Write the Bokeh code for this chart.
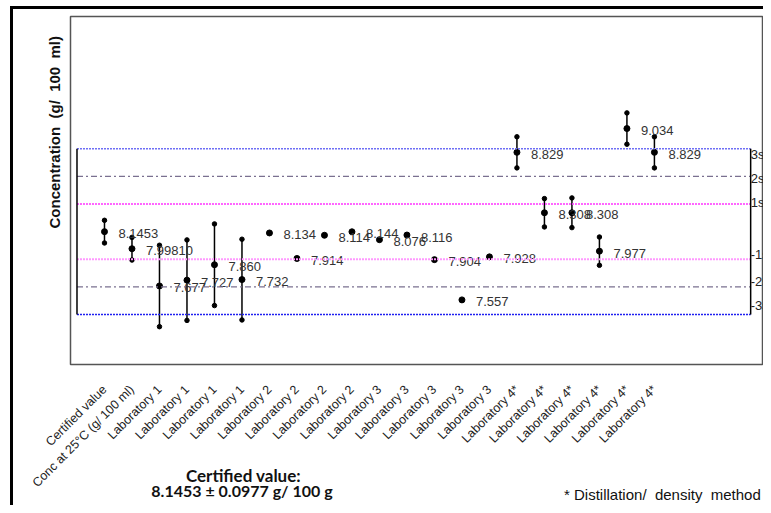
import math
from bokeh.plotting import figure
from bokeh.models import Range1d, FixedTicker, Label, ColumnDataSource, LinearAxis, Title
from bokeh.core.properties import value
from bokeh.embed import file_html
from bokeh.resources import INLINE

# ---------------- data ----------------
categories = ["Certified value", "Conc at 25°C (g/ 100 ml)",
              "Laboratory 1", "Laboratory 1", "Laboratory 1", "Laboratory 1",
              "Laboratory 2", "Laboratory 2", "Laboratory 2", "Laboratory 2",
              "Laboratory 3", "Laboratory 3", "Laboratory 3", "Laboratory 3", "Laboratory 3",
              "Laboratory 4*", "Laboratory 4*", "Laboratory 4*", "Laboratory 4*",
              "Laboratory 4*", "Laboratory 4*"]
values = [8.1453, 7.99810, 7.677, 7.727, 7.860, 7.732,
          8.134, 7.914, 8.114, 8.144,
          8.076, 8.116, 7.904, 7.557, 7.928,
          8.829, 8.308, 8.308, 7.977, 9.034, 8.829]
value_labels = ["8.1453", "7.99810", "7.677", "7.727", "7.860", "7.732",
                "8.134", "7.914", "8.114", "8.144",
                "8.076", "8.116", "7.904", "7.557", "7.928",
                "8.829", "8.308", "8.308", "7.977", "9.034", "8.829"]
uncertainty = [0.0977, 0.0977, 0.351, 0.347, 0.352, 0.348,
               0, 0, 0, 0,
               0, 0, 0, 0, 0,
               0.134, 0.122, 0.128, 0.122, 0.135, 0.134]
certified_mean = 8.1453
certified_sd = 0.238
sigma_levels = [3, 2, 1, -1, -2, -3]
sigma_labels = ["3s", "2s", "1s", "-1s", "-2s", "-3s"]
NB = "\u00a0"
y_title = f"Concentration{NB} (g/{NB} 100{NB} ml)"
note_title = "Certified value:"
note_value = "8.1453 ± 0.0977 g/ 100 g"
footnote = f"* Distillation/{NB} density{NB} method"

FONT = value("Liberation Sans")
xs = list(range(1, len(categories) + 1))

W, H = 763, 505
outer_frame = ("linear-gradient(#000,#000) 10px 6px / 3px 600px no-repeat, "
               "linear-gradient(#000,#000) 10px 6px / 800px 3px no-repeat, white")

p = figure(width=W, height=H, output_backend="svg", toolbar_location=None,
           x_range=Range1d(-0.236, 24.967), y_range=Range1d(7.0, 10.0),
           min_border_left=70, min_border_top=16, min_border_right=0, min_border_bottom=139,
           styles={"background": outer_frame})
p.background_fill_color = "white"
p.border_fill_color = None
p.outline_line_color = "#555555"
p.outline_line_width = 1.5
p.xgrid.visible = False
p.ygrid.visible = False
p.yaxis.visible = False


def quiet(axis):
    axis.major_tick_out = 0
    axis.major_tick_in = 0
    axis.minor_tick_out = 0
    axis.minor_tick_in = 0
    axis.major_tick_line_color = None
    axis.minor_tick_line_color = None
    axis.axis_line_color = None


ax = p.xaxis[0]
quiet(ax)
ax.ticker = FixedTicker(ticks=xs)
ax.major_label_overrides = {x: c for x, c in zip(xs, categories)}
ax.major_label_orientation = math.pi / 4
ax.major_label_standoff = 23
ax.major_label_text_font = "Liberation Sans"
ax.major_label_text_font_size = "12.5px"
ax.major_label_text_color = "#222222"

# texts under the chart, set as single-tick axes stacked below the category axis
note_title_x = 6.056
note_value_x = 6.0
foot_x = 21.29
for ticks, texts, standoff, font, style, size in [
        ([note_value_x], [note_value], -17, "Lato", "bold", "16px"),
        ([foot_x], [footnote], -17, "Liberation Sans", "normal", "15px"),
        ([note_title_x], [note_title], -41, "Lato", "bold", "17px")]:
    a = LinearAxis(ticker=FixedTicker(ticks=ticks),
                   major_label_overrides=dict(zip(ticks, texts)))
    quiet(a)
    a.major_label_standoff = standoff
    a.major_label_text_font = font
    a.major_label_text_font_style = style
    a.major_label_text_font_size = size
    a.major_label_text_color = "#111111"
    p.add_layout(a, "below")

p.add_layout(Title(text=y_title, align="left", offset=136, standoff=16,
                   text_font="Liberation Sans", text_font_style="bold",
                   text_font_size="15px", text_color="#111111"), "left")

# error bars
eb_x = [x for x, e in zip(xs, uncertainty) if e > 0]
eb_lo = [v - e for v, e in zip(values, uncertainty) if e > 0]
eb_hi = [v + e for v, e in zip(values, uncertainty) if e > 0]
p.segment(x0=eb_x, y0=eb_lo, x1=eb_x, y1=eb_hi, line_color="black", line_width=1.5)
p.scatter(eb_x + eb_x, eb_lo + eb_hi, size=4.5, color="black")

# points
src = ColumnDataSource(dict(x=xs, y=values, lab=value_labels))
p.scatter("x", "y", source=src, size=6, color="black")
p.text("x", "y", text="lab", source=src, x_offset=14, y_offset=2,
       text_align="left", text_baseline="middle", text_font=FONT,
       text_font_size="13px", text_color="#333333")

# reference lines
line_styles = {3: ("#6f6ff5", "2 1", 1.5), 2: ("#7a7090", "6 3 2 3", 1.3),
               1: ("#ff33ff", "2 1", 1.5), -1: ("#ff99ff", "2 1", 2),
               -2: ("#7a7090", "6 3 2 3", 1.3), -3: ("#2020f0", "2 1", 1.5)}
box_left, box_right = 0.0, 24.5
for k in sigma_levels:
    col, dash, w = line_styles[k]
    yv = certified_mean + k * certified_sd
    p.segment(x0=[box_left], y0=[yv], x1=[box_right], y1=[yv],
              line_color=col, line_dash=dash, line_width=w)
lo3 = certified_mean - 3 * certified_sd
hi3 = certified_mean + 3 * certified_sd
p.segment(x0=[box_left, box_right], y0=[lo3, lo3], x1=[box_left, box_right], y1=[hi3, hi3],
          line_color="black", line_width=1.5)

sig_offsets = {3: 6, 2: 2, 1: -2, -1: -5, -2: -5, -3: -9}
for k, lab in zip(sigma_levels, sigma_labels):
    p.add_layout(Label(x=box_right, y=certified_mean + k * certified_sd, text=lab,
                       x_offset=0, y_offset=-sig_offsets[k],
                       text_align="left", text_baseline="middle",
                       text_font="Liberation Sans", text_font_size="13px",
                       text_color="#222222"))

open("out.html", "w").write(file_html(p, INLINE))
